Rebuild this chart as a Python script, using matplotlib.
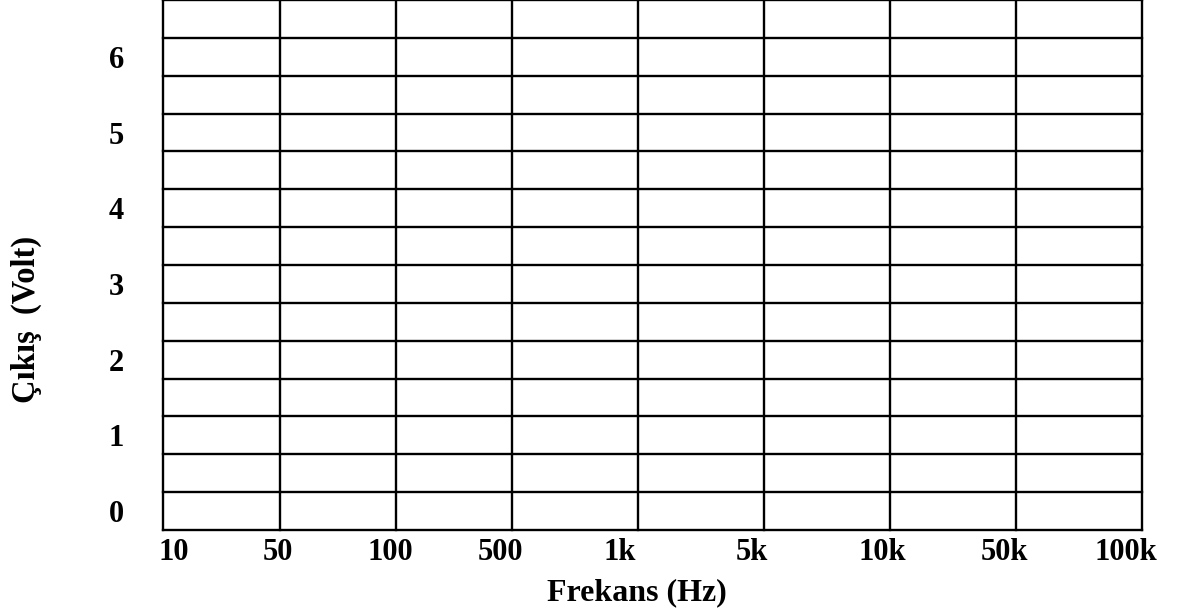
import matplotlib
matplotlib.use("Agg")
import matplotlib.pyplot as plt
import numpy as np

# ---- content ----
x_labels = ["10", "50", "100", "500", "1k", "5k", "10k", "50k", "100k"]
y_values = [0, 1, 2, 3, 4, 5, 6]
y_labels = ["0", "1", "2", "3", "4", "5", "6"]
x_title = "Frekans (Hz)"
y_title = "Çıkış  (Volt)"

# ---- layout (pixels in a 1184x609 canvas) ----
W, H = 1184, 609
col_edges = [163, 280, 396, 512, 638, 764, 890, 1016, 1142]
label_offsets = [11, -2.5, -6, -12, -18, -12, -8, -12, -16]
y_lo, y_hi, y_step = -0.25, 6.75, 0.5

plt.rcParams['font.family'] = ['Liberation Serif', 'DejaVu Serif']
plt.rcParams['font.weight'] = 'bold'

fig = plt.figure(figsize=(W / 100, H / 100), dpi=100)
ax = fig.add_axes([col_edges[0] / W, (H - 530) / H,
                   (col_edges[-1] - col_edges[0]) / W, 530 / H])
ax.set_xlim(col_edges[0], col_edges[-1])
ax.set_ylim(y_lo, y_hi)

lw = 1.7
for x in col_edges:
    ax.axvline(x, color='black', lw=lw, clip_on=False)
for y in np.arange(y_lo, y_hi + 1e-9, y_step):
    ax.axhline(y, color='black', lw=lw, clip_on=False)
for s in ax.spines.values():
    s.set_visible(False)

ax.set_yticks(y_values)
ax.set_yticklabels(y_labels, fontsize=22, fontweight='bold')
ax.tick_params(axis='y', length=0, pad=28)

xt = [e + o for e, o in zip(col_edges, label_offsets)]
ax.set_xticks(xt)
ax.set_xticklabels(x_labels, fontsize=22, fontweight='bold')
ax.tick_params(axis='x', length=0, pad=6)

fig.text(637 / W, 1 - 600 / H, x_title, ha='center', va='baseline',
         fontsize=23, fontweight='bold')
fig.text(26 / W, 1 - 319 / H, y_title, ha='center', va='center',
         rotation=90, fontsize=23.5, fontweight='bold')

fig.savefig("out.png", dpi=100)
